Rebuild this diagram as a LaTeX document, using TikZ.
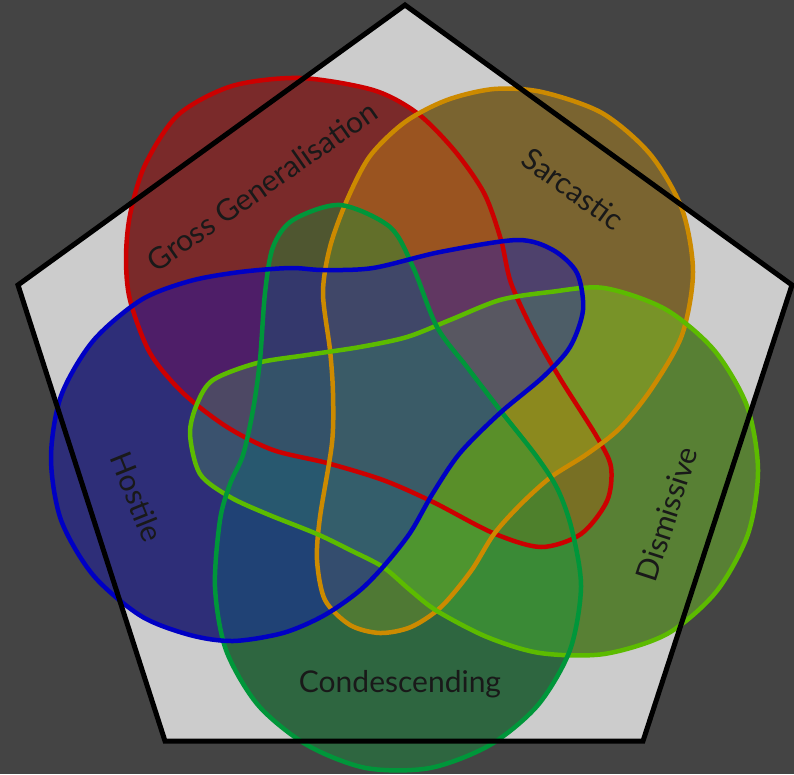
\documentclass[tikz,border=0pt]{standalone}
\usepackage{fontspec}
\setmainfont{Lato}
\usepackage{tikz}
\usetikzlibrary{positioning}
\definecolor{vennbg}{HTML}{444444}
\definecolor{vennpale}{HTML}{CCCCCC}
\definecolor{vennred}{HTML}{CC0000}
\definecolor{vennorange}{HTML}{CC8A00}
\definecolor{vennlime}{HTML}{5CBB00}
\definecolor{venngreen}{HTML}{00963A}
\definecolor{vennblue}{HTML}{0000C4}
\definecolor{redfill}{HTML}{CB0505}
\definecolor{orangefill}{HTML}{CB9412}
\definecolor{limefill}{HTML}{76DA1C}
\definecolor{greenfill}{HTML}{0F993A}
\definecolor{bluefill}{HTML}{0D0DC6}

% the five sets, traced in pixels
\newcommand{\grosspath}{plot[smooth cycle] coordinates {(300,78) (373,90) (417,113) (454,150) (484,193) (501,240) (511,283) (534,333) (561,380) (597,437) (611,467) (607,501) (581,534) (541,547) (493,533) (433,502) (383,480) (327,463) (273,450) (227,427) (183,393) (150,353) (130,300) (126,258) (130,215) (145,165) (178,115) (232,86)}}
\newcommand{\sarcpath}{plot[smooth cycle] coordinates {(494,89) (542,92) (602,113) (650,154) (682,209) (693,272) (682,335) (652,388) (620,428) (587,454) (551,477) (521,504) (494,534) (471,571) (441,607) (411,627) (380,633) (350,625) (325,600) (317,560) (320,517) (332,443) (333,393) (330,350) (323,293) (330,247) (347,200) (370,156) (405,122) (447,100)}}
\newcommand{\dismpath}{plot[smooth cycle] coordinates {(550,292) (604,288) (665,309) (714,350) (747,406) (758,470) (748,534) (716,592) (667,634) (604,654) (540,653) (487,637) (437,611) (410,590) (383,567) (350,550) (317,534) (267,514) (230,497) (200,474) (190,434) (197,404) (213,380) (257,363) (307,355) (360,347) (407,337) (450,320) (500,300)}}
\newcommand{\condpath}{plot[smooth cycle] coordinates {(340,205) (390,227) (413,267) (437,327) (467,367) (500,410) (537,457) (558,490) (572,530) (581,587) (570,650) (538,705) (490,745) (430,768) (366,768) (307,745) (258,705) (226,650) (215,587) (220,520) (230,484) (243,455) (253,410) (260,360) (265,293) (273,247) (293,220)}}
\newcommand{\hostpath}{plot[smooth cycle] coordinates {(517,240) (553,250) (577,273) (583,310) (570,347) (543,377) (500,413) (460,453) (433,493) (410,533) (383,567) (358,592) (323,616) (283,633) (233,641) (190,635) (141,616) (93,575) (61,520) (51,458) (61,396) (93,341) (141,300) (190,281) (240,272) (290,268) (323,270) (373,268) (440,252)}}

\begin{document}
\begin{tikzpicture}[
  x=1pt,y=-1pt,
  setfill/.style={fill opacity=0.4},
  setline/.style={line width=4.5pt},
  setlabel/.style={font=\fontsize{30}{34}\selectfont,text=black!90,inner sep=0pt}
]
\useasboundingbox (0,0) rectangle (794,774);
\fill[vennbg] (0,0) rectangle (794,774);
\fill[vennpale] (405,5) -- (792,285) -- (643,741) -- (165,741) -- (18,285) -- cycle;

% dark base under the sets, then the tints
\foreach \shape in {\grosspath,\sarcpath,\dismpath,\condpath,\hostpath}
  \fill[vennbg] \shape;
\fill[redfill,setfill] \grosspath;
\fill[orangefill,setfill] \sarcpath;
\fill[limefill,setfill] \dismpath;
\fill[greenfill,setfill] \condpath;
\fill[bluefill,setfill] \hostpath;

\draw[vennred,setline] \grosspath;
\draw[vennorange,setline] \sarcpath;
\draw[vennlime,setline] \dismpath;
\draw[venngreen,setline] \condpath;
\draw[vennblue,setline] \hostpath;

\draw[black,line width=5pt,line join=miter] (405,5) -- (792,285) -- (643,741) -- (165,741) -- (18,285) -- cycle;

\node[setlabel,rotate=35] (gross) at (262,186) {Gross Generalisation};
\node[setlabel,rotate=-36] (sarcastic) at (573,189) {Sarcastic};
\node[setlabel,rotate=72] (dismissive) at (667,514) {Dismissive};
\node[setlabel] (condescending) at (400,684) {Condescending};
\node[setlabel,rotate=-68] (hostile) at (137,497) {Hostile};
\end{tikzpicture}
\end{document}
